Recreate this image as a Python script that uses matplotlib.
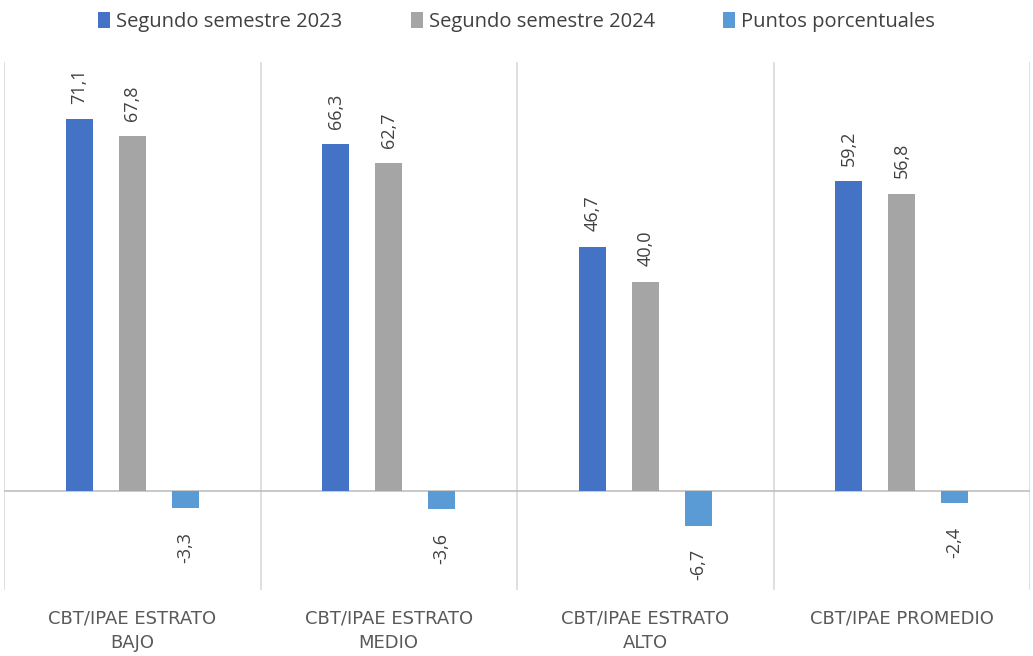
import matplotlib.pyplot as plt
import numpy as np

categories = ["CBT/IPAE ESTRATO\nBAJO", "CBT/IPAE ESTRATO\nMEDIO",
              "CBT/IPAE ESTRATO\nALTO", "CBT/IPAE PROMEDIO"]
sem_2023 = [71.1, 66.3, 46.7, 59.2]
sem_2024 = [67.8, 62.7, 40.0, 56.8]
puntos = [-3.3, -3.6, -6.7, -2.4]
series_names = ["Segundo semestre 2023", "Segundo semestre 2024", "Puntos porcentuales"]
colors = ["#4472C4", "#A5A5A5", "#5B9BD5"]

plt.rcParams['font.family'] = ['Open Sans', 'DejaVu Sans']

fig = plt.figure(figsize=(10.33, 6.56), dpi=100)
ax = fig.add_axes([4 / 1033, 66 / 656, 1026 / 1033, 528 / 656])

x = np.arange(len(categories))
width = 0.105
offset = 0.206

for i, (vals, name, col) in enumerate(zip([sem_2023, sem_2024, puntos], series_names, colors)):
    bars = ax.bar(x + (i - 1) * offset, vals, width, color=col, label=name, zorder=3)
    for b, v in zip(bars, vals):
        txt = f"{v:.1f}".replace(".", ",")
        if v >= 0:
            ax.annotate(txt, (b.get_x() + b.get_width() / 2, v), xytext=(0, 11),
                        textcoords="offset points", rotation=90, ha="center", va="bottom",
                        fontsize=13, color="#404040")
        else:
            ax.annotate(txt, (b.get_x() + b.get_width() / 2, v), xytext=(0, -17),
                        textcoords="offset points", rotation=90, ha="center", va="top",
                        fontsize=13, color="#404040")

ax.set_xlim(-0.5, len(categories) - 0.5)
ax.set_ylim(-19, 82)
ax.axhline(0, color="#BFBFBF", lw=1.2, zorder=2)
for b in np.arange(-0.5, len(categories), 1.0):
    ax.axvline(b, color="#D9D9D9", lw=1.2, zorder=1)

for s in ax.spines.values():
    s.set_visible(False)
ax.set_yticks([])
ax.set_xticks(x)
ax.set_xticklabels(categories, fontsize=13, color="#595959",
                   family=['DejaVu Sans'], linespacing=1.5)
ax.tick_params(axis="x", length=0, pad=14)

fig.legend(loc="upper center", bbox_to_anchor=(0.5, 1.01), ncol=3, frameon=False,
           fontsize=14.5, handlelength=0.6, handleheight=0.9, handletextpad=0.3,
           columnspacing=3.4, labelcolor="#404040")

fig.savefig("out.png", dpi=100)
